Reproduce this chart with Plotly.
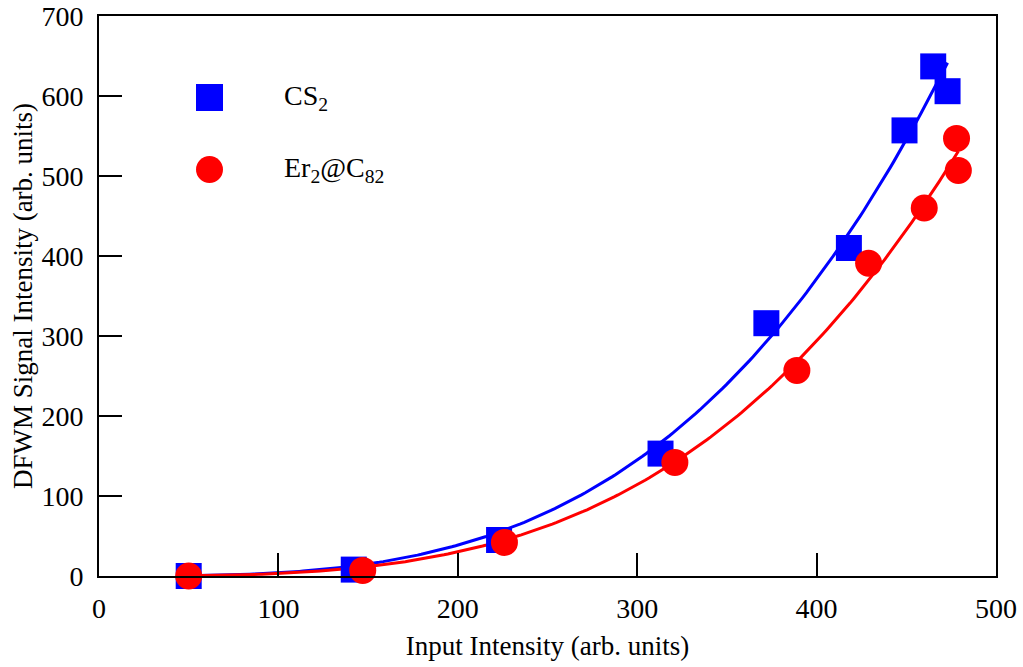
import numpy as np
import plotly.graph_objects as go

# Measured points
cs2_x = [50, 142, 223, 313, 372, 418, 449, 465, 473]
cs2_y = [0, 8, 45, 153, 316, 410, 557, 637, 606]

er_x = [50, 147, 226, 321, 389, 429, 460, 478, 479]
er_y = [0, 7, 42, 142, 257, 391, 460, 547, 507]

x_ticks = [0, 100, 200, 300, 400, 500]
y_ticks = [0, 100, 200, 300, 400, 500, 600, 700]

BLUE = "#0000ff"
RED = "#ff0000"
FONT = "'Liberation Serif', 'Times New Roman', Times, serif"


def power_fit(xs, ys, n=200):
    """Least-squares fit of y = a * x**b (grid over b, closed form for a)."""
    xs = np.asarray(xs, float)
    ys = np.asarray(ys, float)
    best = None
    for b in np.linspace(1.0, 6.0, 2001):
        xb = xs ** b
        a = np.dot(ys, xb) / np.dot(xb, xb)
        sse = np.sum((ys - a * xb) ** 2)
        if best is None or sse < best[0]:
            best = (sse, a, b)
    _, a, b = best
    xf = np.linspace(xs.min(), xs.max(), n)
    return xf, a * xf ** b


fig = go.Figure()

for xs, ys, color in [(cs2_x, cs2_y, BLUE), (er_x, er_y, RED)]:
    xf, yf = power_fit(xs, ys)
    fig.add_trace(go.Scatter(x=xf, y=yf, mode="lines",
                             line=dict(color=color, width=3),
                             hoverinfo="skip", showlegend=False))

fig.add_trace(go.Scatter(x=cs2_x, y=cs2_y, mode="markers", name="CS2",
                         marker=dict(symbol="square", size=26, color=BLUE,
                                     line=dict(width=0)),
                         cliponaxis=False, showlegend=False))
fig.add_trace(go.Scatter(x=er_x, y=er_y, mode="markers", name="Er2@C82",
                         marker=dict(symbol="circle", size=27, color=RED,
                                     line=dict(width=0)),
                         cliponaxis=False, showlegend=False))

# Hand-built legend (paper coordinates)
W, H = 1023, 667
ml, mr, mt, mb = 99, 27, 16, 91
pw, ph = W - ml - mr, H - mt - mb


def px_x(p):
    return (p - ml) / pw


def px_y(p):
    return (H - mb - p) / ph


shapes = [
    dict(type="rect", xref="paper", yref="paper",
         x0=px_x(196), x1=px_x(223), y0=px_y(111), y1=px_y(84),
         fillcolor=BLUE, line=dict(width=0)),
    dict(type="circle", xref="paper", yref="paper",
         x0=px_x(196), x1=px_x(223), y0=px_y(183), y1=px_y(156),
         fillcolor=RED, line=dict(width=0)),
]

annotations = [
    dict(text="CS<sub>2</sub>", xref="paper", yref="paper",
         x=px_x(282), y=px_y(97), xanchor="left", yanchor="middle",
         showarrow=False, font=dict(family=FONT, size=28, color="black")),
    dict(text="Er<sub>2</sub>@C<sub>82</sub>", xref="paper", yref="paper",
         x=px_x(282), y=px_y(169), xanchor="left", yanchor="middle",
         showarrow=False, font=dict(family=FONT, size=28, color="black")),
]

axis_common = dict(
    showgrid=False, zeroline=False, showline=True, linecolor="black",
    linewidth=2, mirror=True, ticks="inside", ticklen=23, tickwidth=2,
    tickcolor="black", automargin=False,
    tickfont=dict(family=FONT, size=28, color="black"),
)

fig.update_layout(
    width=W, height=H,
    margin=dict(l=ml, r=mr, t=mt, b=mb),
    paper_bgcolor="white", plot_bgcolor="white",
    font=dict(family=FONT, color="black"),
    showlegend=False,
    shapes=shapes, annotations=annotations,
    xaxis=dict(range=[0, 500], tickvals=x_ticks, ticklabelstandoff=6,
               title=dict(text="Input Intensity (arb. units)", standoff=14,
                          font=dict(family=FONT, size=27, color="black")),
               **axis_common),
    yaxis=dict(range=[0, 700], tickvals=y_ticks, ticklabelstandoff=8,
               title=dict(text="DFWM Signal Intensity (arb. units)", standoff=1,
                          font=dict(family=FONT, size=27, color="black")),
               **axis_common),
)

fig.write_html("out.html")
